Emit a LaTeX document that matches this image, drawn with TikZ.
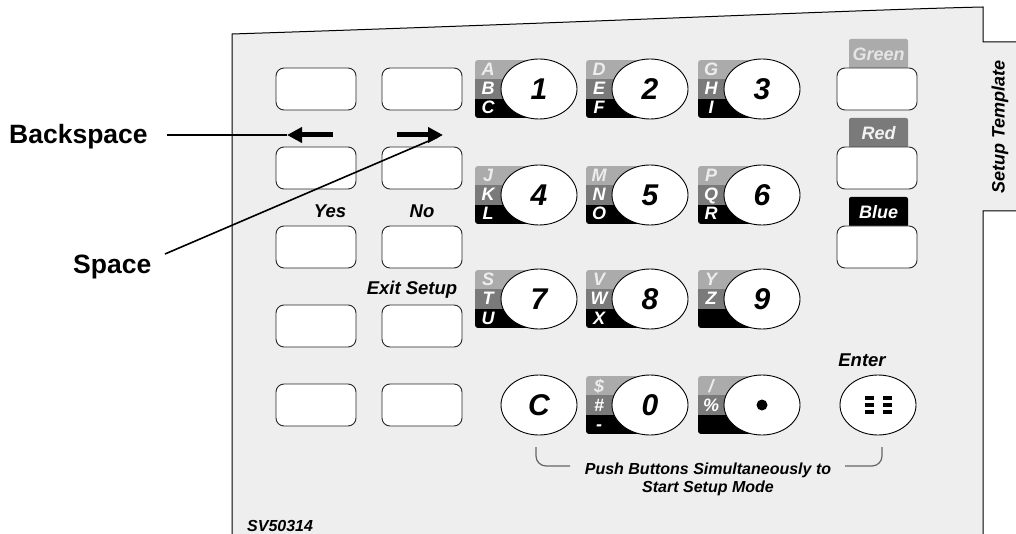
\documentclass[tikz,border=0pt]{standalone}
\usepackage{fontspec}
\setmainfont{Liberation Sans}
\usetikzlibrary{shapes.geometric,arrows.meta}
\definecolor{panel}{HTML}{EEEEEE}
\definecolor{stA}{HTML}{ABABAB}
\definecolor{stB}{HTML}{7A7A7A}
\tikzset{
 btn/.style={draw=black!85, fill=white, rounded corners=8pt, minimum width=80pt, minimum height=42pt, inner sep=0pt, line width=0.9pt},
 keyell/.style={ellipse, draw=black, fill=white, minimum width=76pt, minimum height=60pt, inner sep=0pt, line width=0.9pt, font=\fontsize{30}{30}\selectfont\bfseries\itshape},
 lbl/.style={font=\fontsize{18.5}{18.5}\selectfont\bfseries\itshape, inner sep=0pt},
 ltr/.style={text=white, font=\fontsize{18}{18}\selectfont\bfseries\itshape, inner sep=0pt, text height=12pt, text depth=0pt},
 callout/.style={font=\fontsize{26.5}{26.5}\selectfont\bfseries, inner sep=0pt},
 bigarrow/.style={line width=5pt, -{Triangle[length=15pt,width=15pt]}},
 thinline/.style={line width=1.6pt},
 tabbox/.style={rounded corners=2pt, minimum width=59pt, minimum height=30pt, inner sep=0pt, font=\fontsize{18}{18}\selectfont\bfseries\itshape},
}
\newcommand\mykey[7]{%
 \begin{scope}
 \clip[rounded corners=3pt] ({#1-64},{#2-29}) rectangle ({#1},{#2+29});
 \fill[stA] ({#1-64},{#2-29}) rectangle ({#1},{#2-10});
 \fill[stB] ({#1-64},{#2-10}) rectangle ({#1},{#2+10});
 \fill[black] ({#1-64},{#2+10}) rectangle ({#1},{#2+29});
 \end{scope}
 \node[ltr, text=white!93!black] (#3a) at ({#1-51},{#2-19}) {#5};
 \node[ltr] (#3b) at ({#1-51},{#2}) {#6};
 \node[ltr] (#3c) at ({#1-51},{#2+19}) {#7};
 \node[keyell] (#3) at (#1,#2) {#4};
}
\begin{document}
\begin{tikzpicture}[x=1pt,y=-1pt]
\useasboundingbox (0,0) rectangle (1016,534);
% panel
\draw[fill=panel, line width=1pt] (232,540) -- (232,34) .. controls (600,22) and (850,10) .. (983,7) -- (983,42) -- (1020,42) -- (1020,211) -- (983,211) -- (983,540);
\node[font=\fontsize{18}{18}\selectfont\bfseries\itshape, rotate=90] (tab) at (1000,127) {Setup Template};
% left buttons
\foreach \r/\y in {1/89,2/168,3/247,4/326,5/405}{
  \node[btn] (L\r) at (316,\y) {};
  \node[btn] (R\r) at (422,\y) {};
}
\node[lbl] (yes) at (330,211) {Yes};
\node[lbl] (no) at (422,211) {No};
\node[lbl] (exit) at (412,290) {Exit Setup};
% arrows
\coordinate (bsS) at (333,135);
\coordinate (bsT) at (287,135);
\coordinate (spS) at (397,135);
\coordinate (spT) at (443,135);
\draw[bigarrow] (bsS) -- (bsT);
\draw[bigarrow] (spS) -- (spT);
\node[callout, anchor=west] (bsl) at (9,137) {Backspace};
\node[callout, anchor=west] (spl) at (73,267) {Space};
\draw[thinline] (167,135) -- (bsT);
\draw[thinline] (165,254) -- (438,137);
% keypad
\mykey{539}{89}{k1}{1}{A}{B}{C}
\mykey{650}{89}{k2}{2}{D}{E}{F}
\mykey{762}{89}{k3}{3}{G}{H}{I}
\mykey{539}{195}{k4}{4}{J}{K}{L}
\mykey{650}{195}{k5}{5}{M}{N}{O}
\mykey{762}{195}{k6}{6}{P}{Q}{R}
\mykey{539}{299}{k7}{7}{S}{T}{U}
\mykey{650}{299}{k8}{8}{V}{W}{X}
\mykey{762}{299}{k9}{9}{Y}{Z}{}
\node[keyell] (kC) at (539,405) {C};
\mykey{650}{405}{k0}{0}{\$}{\#}{-}
\mykey{762}{405}{kd}{}{/}{\%}{}
\fill (kd.center) circle (5.5pt);
\node[keyell] (ent) at (878,405) {};
\foreach \dy in {-7,0,7}{
  \draw[line width=3.2pt] ([xshift=-13pt,yshift=-\dy pt]ent.center) -- ([xshift=-4pt,yshift=-\dy pt]ent.center);
  \draw[line width=3.2pt] ([xshift=5pt,yshift=-\dy pt]ent.center) -- ([xshift=14pt,yshift=-\dy pt]ent.center);
}
\node[lbl] (enter) at (862,360) {Enter};
% color buttons
\node[tabbox, fill=stA, text=white!90!black] (green) at (878.5,54) {Green};
\node[tabbox, fill=stB, text=white!95!black] (red) at (878.5,133) {Red};
\node[tabbox, fill=black, text=white] (blue) at (878.5,212) {Blue};
\node[btn] (G) at (877,89) {};
\node[btn] (Rd) at (877,168) {};
\node[btn] (B) at (877,247) {};
% bracket
\draw[black!60, line width=1.2pt, rounded corners=10pt] (536,447) -- (536,466) -- (570,466);
\draw[black!60, line width=1.2pt, rounded corners=10pt] (845,466) -- (882,466) -- (882,447);
\node[font=\fontsize{16}{18}\selectfont\bfseries\itshape, align=center] (push) at (708,479) {Push Buttons Simultaneously to\\Start Setup Mode};
\node[font=\fontsize{16}{16}\selectfont\bfseries\itshape, anchor=west, inner sep=0pt] (sv) at (247,526) {SV50314};
\end{tikzpicture}
\end{document}
